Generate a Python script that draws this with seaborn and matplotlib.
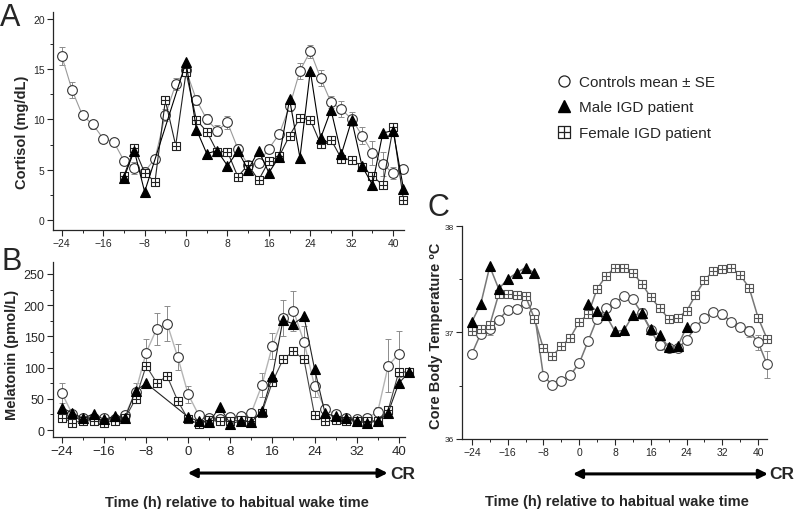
import numpy as np
import seaborn as sns
import matplotlib.pyplot as plt
from matplotlib.path import Path
from matplotlib.lines import Line2D
from matplotlib.ticker import MultipleLocator

# ---- data ----
# A: cortisol (mg/dL)
t_ctrl = np.arange(-24, 44, 2)
cort_ctrl = [16.3, 12.9, 10.4, 9.5, 8.1, 7.8, 5.9, 5.15, 4.8, 6.1, 10.45, 13.5, 14.9, 11.95,
             10.0, 8.9, 9.7, 7.1, 5.5, 5.65, 7.1, 8.55, 11.3, 14.85, 16.8, 14.1, 11.7, 11.0,
             10.05, 8.4, 6.7, 5.55, 4.65, 5.05]
cort_ctrl_se = [0.9, 0.8, 0.3, 0.4, 0.3, 0.3, 0.4, 0.6, 0.5, 0.4, 0.6, 0.6, 0.5, 0.5, 0.5, 0.5,
                0.6, 0.5, 0.3, 0.4, 0.4, 0.4, 0.5, 0.8, 0.65, 0.8, 0.6, 0.8, 0.7, 0.8, 1.2, 1.2,
                0.6, 0.4]
t_cort_male = [-12, -10, -8] + list(range(0, 44, 2))
cort_male = [4.2, 6.9, 2.8, 15.7, 9.0, 6.6, 6.9, 5.4, 6.85, 5.0, 6.9, 4.7, 6.3, 12.0, 6.2,
             14.85, 8.15, 10.95, 6.55, 9.95, 5.35, 3.5, 8.65, 8.9, 3.1]
t_cort_female = np.arange(-12, 44, 2)
cort_female = [4.4, 7.15, 4.7, 3.8, 11.9, 7.4, 14.7, 9.95, 8.8, 6.8, 6.8, 4.3, 5.5, 3.95, 5.85,
               6.35, 8.4, 10.15, 9.98, 7.55, 8.0, 6.1, 6.0, 5.3, 4.4, 3.45, 9.2, 1.95]

# B: melatonin (pmol/L)
t_mel_ctrl = np.arange(-24, 42, 2)
mel_ctrl = [59, 25, 20, 20, 20, 18, 24, 61, 124, 162, 170, 117, 57, 24, 20, 17, 21, 23, 28,
            72, 135, 180, 191, 141, 71, 34, 25, 20, 18, 20, 29, 103, 122]
mel_ctrl_se = [16, 6, 5, 5, 5, 4, 5, 14, 21, 26, 28, 21, 14, 5, 5, 4, 5, 5, 6, 19, 21, 29,
               32, 25, 18, 8, 5, 5, 4, 5, 8, 42, 37]
t_mel_male = list(range(-24, -6, 2)) + list(range(0, 44, 2))
mel_male = [36, 27, 19, 26, 17, 22, 20, 63, 75, 21, 14, 13, 37, 10, 15, 13, 31, 87, 176, 170,
            182, 98, 27, 22, 19, 15, 11, 15, 28, 75, 93]
t_mel_female = np.arange(-24, 44, 2)
mel_female = [20, 12, 15, 15, 12, 15, 19, 50, 103, 76, 86, 47, 17, 10, 16, 14, 15, 16, 14, 28,
              77, 113, 126, 113, 24, 14, 16, 15, 15, 15, 15, 32, 93, 93]

# C: core body temperature (ºC)
t_cbt = np.arange(-24, 44, 2)
cbt_ctrl = [36.80, 36.99, 37.03, 37.12, 37.21, 37.22, 37.28, 37.18, 36.59, 36.51, 36.54, 36.60,
            36.71, 36.92, 37.13, 37.23, 37.28, 37.34, 37.31, 37.18, 37.02, 36.88, 36.85, 36.85,
            36.93, 37.05, 37.14, 37.19, 37.17, 37.10, 37.05, 37.01, 36.91, 36.70]
cbt_ctrl_se = [0.03, 0.03, 0.05, 0.03, 0.03, 0.04, 0.03, 0.04, 0.03, 0.03, 0.03, 0.03, 0.03,
               0.03, 0.03, 0.03, 0.03, 0.03, 0.03, 0.05, 0.04, 0.04, 0.03, 0.03, 0.03, 0.03,
               0.03, 0.03, 0.04, 0.03, 0.04, 0.05, 0.07, 0.13]
cbt_female = [37.01, 37.03, 37.07, 37.36, 37.36, 37.35, 37.34, 37.13, 36.85, 36.78, 36.87,
              36.95, 37.10, 37.17, 37.41, 37.53, 37.61, 37.61, 37.56, 37.46, 37.33, 37.23,
              37.13, 37.14, 37.20, 37.35, 37.49, 37.58, 37.60, 37.61, 37.54, 37.42, 37.14, 36.94]
t_cbt_male_1 = np.arange(-24, -8, 2)
cbt_male_1 = [37.10, 37.27, 37.62, 37.41, 37.50, 37.56, 37.61, 37.56]
t_cbt_male_2 = np.arange(2, 26, 2)
cbt_male_2 = [37.27, 37.20, 37.16, 37.01, 37.02, 37.16, 37.18, 37.03, 36.98, 36.86, 36.87, 37.05]

labels = ['Controls mean \u00b1 SE', 'Male IGD patient', 'Female IGD patient']

# square-with-cross marker
sq_plus = Path([(-1, -1), (1, -1), (1, 1), (-1, 1), (-1, -1), (0, -1), (0, 1), (-1, 0), (1, 0)],
               [Path.MOVETO, Path.LINETO, Path.LINETO, Path.LINETO, Path.CLOSEPOLY,
                Path.MOVETO, Path.LINETO, Path.MOVETO, Path.LINETO])

sns.set_style('ticks')
plt.rcParams['font.family'] = ['Liberation Sans', 'DejaVu Sans']

fig = plt.figure(figsize=(7.97, 5.10), dpi=100)
axA = fig.add_axes([0.0665, 0.5471, 0.4404, 0.4275])
axB = fig.add_axes([0.0665, 0.1412, 0.4417, 0.3431])
axC = fig.add_axes([0.5797, 0.1373, 0.3827, 0.4176])


def draw(ax, t, v, kind, line_color, edge_color, lw=0.8, se=None):
    if se is not None:
        ax.errorbar(t, v, yerr=se, fmt='none', ecolor='#8c8c8c', elinewidth=0.7,
                    capsize=2, capthick=0.7, zorder=1, clip_on=False)
    if kind == 'circle':
        mk = dict(marker='o', markersize=7, markerfacecolor='white')
    elif kind == 'tri':
        mk = dict(marker='^', markersize=7, markerfacecolor='black')
    else:
        mk = dict(marker=sq_plus, markersize=6, markerfacecolor='white')
    sns.lineplot(x=t, y=v, ax=ax, color=line_color, lw=lw, sort=False, estimator=None,
                 errorbar=None, markeredgecolor=edge_color, markeredgewidth=0.8,
                 clip_on=False, **mk)


# panel A
draw(axA, t_ctrl, cort_ctrl, 'circle', '#9a9a9a', '#333333', se=cort_ctrl_se)
draw(axA, t_cort_female, cort_female, 'sq', '#222222', '#222222')
draw(axA, t_cort_male, cort_male, 'tri', 'black', 'black')
axA.set_xlim(-25.7, 42.1)
axA.set_ylim(-1, 20.7)
axA.yaxis.set_major_locator(MultipleLocator(5))
axA.yaxis.set_minor_locator(MultipleLocator(2.5))

# panel B
draw(axB, t_mel_ctrl, mel_ctrl, 'circle', '#b5b5b5', '#333333', lw=1.0, se=mel_ctrl_se)
draw(axB, t_mel_female, mel_female, 'sq', '#444444', '#222222')
draw(axB, t_mel_male, mel_male, 'tri', '#222222', 'black')
axB.set_xlim(-25.7, 41.2)
axB.set_ylim(-11, 269)
axB.yaxis.set_major_locator(MultipleLocator(50))
axB.yaxis.set_minor_locator(MultipleLocator(25))

# panel C
draw(axC, t_cbt, cbt_ctrl, 'circle', '#777777', '#444444', lw=1.1, se=cbt_ctrl_se)
draw(axC, t_cbt, cbt_female, 'sq', '#777777', '#555555', lw=1.1)
draw(axC, t_cbt_male_1, cbt_male_1, 'tri', '#777777', 'black', lw=1.1)
draw(axC, t_cbt_male_2, cbt_male_2, 'tri', '#777777', 'black', lw=1.1)
axC.set_xlim(-26.2, 42.0)
axC.set_ylim(36, 38)
axC.yaxis.set_major_locator(MultipleLocator(1))
axC.yaxis.set_minor_locator(MultipleLocator(0.5))

for ax, xs, ys in [(axA, 7.5, 7.5), (axB, 9.5, 9), (axC, 7.5, 6)]:
    sns.despine(ax=ax)
    ax.set_xlabel('')
    ax.set_ylabel('')
    ax.xaxis.set_major_locator(MultipleLocator(8))
    ax.xaxis.set_minor_locator(MultipleLocator(4))
    ax.tick_params(which='major', direction='out', length=4, width=0.8, pad=2)
    ax.tick_params(which='minor', direction='out', length=2.5, width=0.7)
    ax.tick_params(axis='x', labelsize=xs)
    ax.tick_params(axis='y', labelsize=ys)
    for s in ax.spines.values():
        s.set_linewidth(0.9)

# axis titles
fig.text(22 / 797, 1 - 132 / 510, 'Cortisol (mg/dL)', rotation=90, ha='center', va='center',
         fontsize=10.5, fontweight='bold')
fig.text(12 / 797, 1 - 355 / 510, 'Melatonin (pmol/L)', rotation=90, ha='center', va='center',
         fontsize=10.5, fontweight='bold')
fig.text(436 / 797, 1 - 336 / 510, 'Core Body Temperature \u00baC', rotation=90, ha='center',
         va='center', fontsize=10.5, fontweight='bold')
fig.text(237 / 797, 1 - 503 / 510, 'Time (h) relative to habitual wake time', ha='center',
         va='center', fontsize=10.5, fontweight='bold')
fig.text(617 / 797, 1 - 502 / 510, 'Time (h) relative to habitual wake time', ha='center',
         va='center', fontsize=10.5, fontweight='bold')

# panel letters
fig.text(0 / 797, 1 - 26 / 510, 'A', fontsize=22, va='baseline')
fig.text(1 / 797, 1 - 270 / 510, 'B', fontsize=22, va='baseline')
fig.text(427 / 797, 1 - 216 / 510, 'C', fontsize=22, va='baseline')

# constant routine arrows
for ax, x0, x1, yf in [(axB, -0.1, 37.9, -0.206), (axC, -1.4, 42.2, -0.164)]:
    tr = ax.get_xaxis_transform()
    ax.annotate('', xy=(x1, yf), xytext=(x0, yf), xycoords=tr, textcoords=tr,
                arrowprops=dict(arrowstyle='<|-|>', lw=2.2, color='black', mutation_scale=13,
                                shrinkA=0, shrinkB=0), annotation_clip=False)
    ax.text(x1 + 0.4, yf, 'CR', transform=tr, fontsize=12.5, fontweight='bold',
            ha='left', va='center', clip_on=False)

# legend
handles = [
    Line2D([], [], ls='none', marker='o', markersize=8, markerfacecolor='white',
           markeredgecolor='#222222', markeredgewidth=0.9),
    Line2D([], [], ls='none', marker='^', markersize=9, markerfacecolor='black',
           markeredgecolor='black'),
    Line2D([], [], ls='none', marker=sq_plus, markersize=8, markerfacecolor='white',
           markeredgecolor='#222222', markeredgewidth=0.9),
]
fig.legend(handles, labels, loc='upper left', bbox_to_anchor=(556 / 797, 1 - 76 / 510),
           frameon=False, fontsize=11, handlelength=1.0, handletextpad=0.5,
           labelspacing=0.75, borderpad=0, borderaxespad=0)

plt.savefig('out.png', dpi=100)
